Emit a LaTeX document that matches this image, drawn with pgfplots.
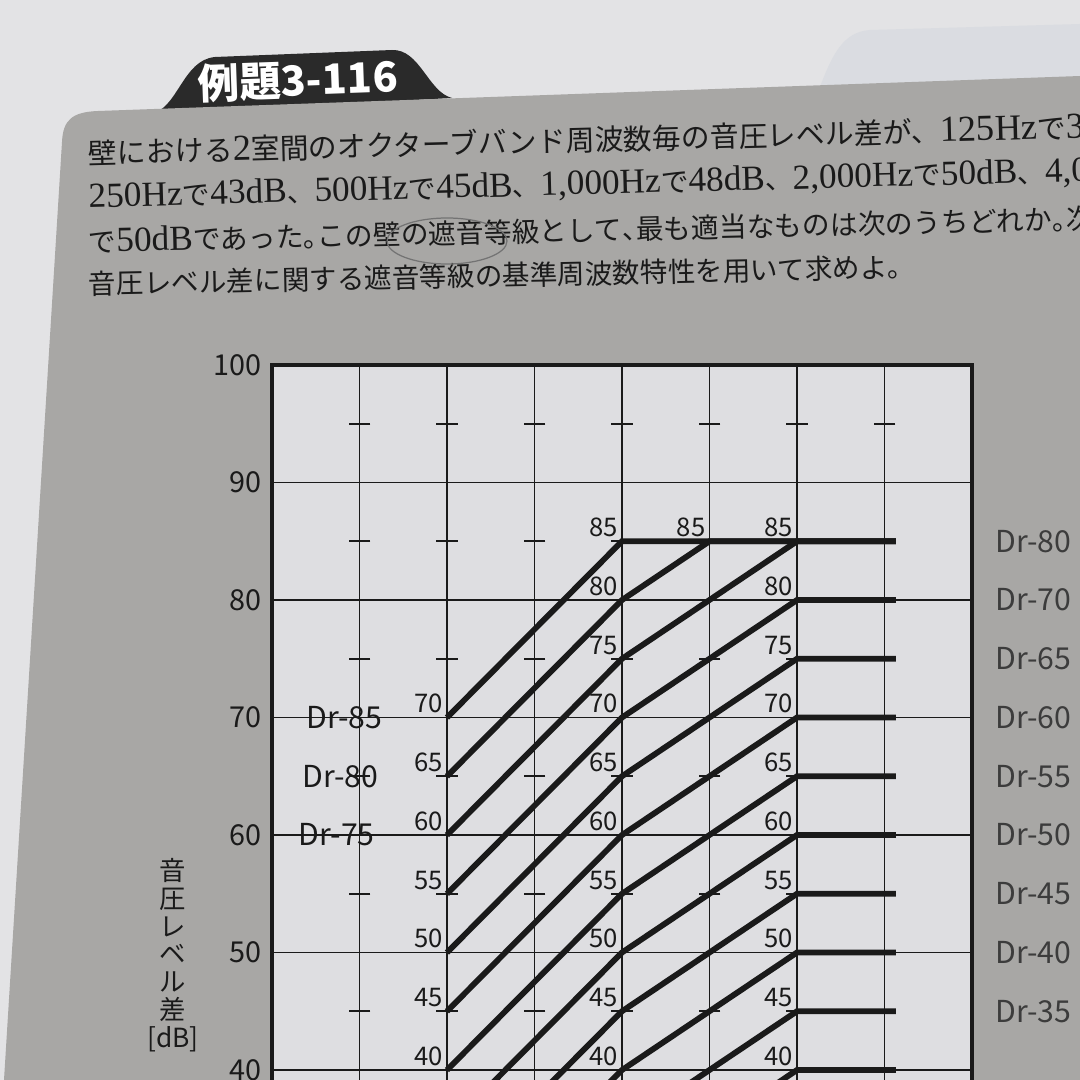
\documentclass[border=0pt]{standalone}
\usepackage{pgfplots}
\pgfplotsset{compat=1.18}
\usepackage{fontspec}
\setmainfont{Noto Sans CJK JP}
\newfontfamily\lserif{Liberation Serif}[Scale=1.27]
\newcommand\hw[1]{\makebox[0.5em][l]{#1}}
\definecolor{pagebg}{HTML}{E3E3E5}
\definecolor{ghost}{HTML}{DADCE1}
\definecolor{panel}{HTML}{A8A7A5}
\definecolor{chartbg}{HTML}{DEDEE1}
\definecolor{ink}{HTML}{1A1A1A}
\definecolor{tabc}{HTML}{2A2A2A}
\tikzset{
  dr/.style={draw=ink, line width=1.65pt},
  rl/.style={anchor=west, text=ink!85, font=\fontsize{8.6}{8.6}\selectfont},
  ll/.style={text=ink, font=\fontsize{8.6}{8.6}\selectfont},
}
\begin{document}
\begin{tikzpicture}
\useasboundingbox (0,0) rectangle (108mm,-108mm);
\clip (0,0) rectangle (108mm,-108mm);
\begin{scope}[x=0.1mm,y=-0.1mm]
  \fill[pagebg] (0,0) rectangle (1080,1080);
  \fill[ghost] (815,100) .. controls (830,60) and (840,32) .. (870,30) -- (1080,24) -- (1080,100) -- cycle;
  \fill[tabc] (150,114) .. controls (178,110) and (182,60) .. (215,57) -- (392,50) .. controls (420,49) and (428,92) .. (452,98) -- cycle;
  \fill[panel] (4,1080) -- (62,142) .. controls (63,120) and (72,112) .. (98,111) -- (1080,76) -- (1080,1080) -- cycle;
  \node[white, font=\fontsize{11.8}{11.8}\selectfont\bfseries, rotate=2] at (298,80) {例題3-116};
  \node[anchor=west, rotate=1.5, inner sep=0, text=ink, font=\fontsize{8.2}{8.2}\selectfont] at (88,153)
    {壁における{\lserif 2}室間のオクターブバンド周波数毎の音圧レベル差が、{\lserif 125Hz}で{\lserif 3}};
  \node[anchor=west, rotate=1.5, inner sep=0, text=ink, font=\fontsize{7.9}{7.9}\selectfont] at (88,198)
    {{\lserif 250Hz}で{\lserif 43dB}、{\lserif 500Hz}で{\lserif 45dB}、{\lserif 1,000Hz}で{\lserif 48dB}、{\lserif 2,000Hz}で{\lserif 50dB}、{\lserif 4,0}};
  \node[anchor=west, rotate=1.3, inner sep=0, text=ink, font=\fontsize{7.9}{7.9}\selectfont] at (88,241)
    {で{\lserif 50dB}であった\hw{。}この壁の遮音等級として\hw{、}最も適当なものは次のうちどれか\hw{。}次};
  \node[anchor=west, rotate=1.2, inner sep=0, text=ink, font=\fontsize{7.85}{7.85}\selectfont] at (88,284)
    {音圧レベル差に関する遮音等級の基準周波数特性を用いて求めよ。};
  \draw[black!55, line width=0.35pt] (447,241) ellipse (60 and 23);
  \node[anchor=north, align=center, text=ink, font=\fontsize{7.5}{7.9}\selectfont] at (173,846)
    {音\\圧\\レ\\ベ\\ル\\差\\{[dB]}};
\end{scope}

\begin{axis}[
  at={(27.2mm,-108mm)}, anchor=south west,
  scale only axis, width=70mm, height=71.5mm,
  xmin=0, xmax=8, ymin=39.15, ymax=100,
  clip=false,
  axis line style={draw=none},
  axis background/.style={fill=chartbg},
  xtick={1,2,3,4,5,6,7}, xticklabels={},
  ytick={40,50,60,70,80,90,100},
  major tick length=0pt,
  grid=major, grid style={draw=ink, line width=0.45pt},
  yticklabel style={font=\fontsize{8.2}{8.2}\selectfont, text=ink, inner sep=1.0mm},
  /pgf/number format/assume math mode=true,
]
% frame
\draw[ink, line width=0.9pt] (axis cs:0,39.15) -- (axis cs:0,100) -- (axis cs:8,100) -- (axis cs:8,39.15);
% half-grid tick marks
\addplot[only marks, mark=-, mark size=3.1pt, mark options={draw=ink, line width=0.45pt}] coordinates {
 (1,45)(1,55)(1,65)(1,75)(1,85)(1,95)
 (2,45)(2,55)(2,65)(2,75)(2,85)(2,95)
 (3,45)(3,55)(3,65)(3,75)(3,85)(3,95)
 (4,45)(4,55)(4,65)(4,75)(4,85)(4,95)
 (5,45)(5,55)(5,65)(5,75)(5,85)(5,95)
 (6,45)(6,55)(6,65)(6,75)(6,85)(6,95)
 (7,45)(7,55)(7,65)(7,75)(7,85)(7,95)};
% Dr curves
\addplot[dr, mark=none] coordinates {(2,70)(4,85)(7.13,85)};
\addplot[dr, mark=none] coordinates {(2,65)(4,80)(5,85)(7.13,85)};
\addplot[dr, mark=none] coordinates {(2,60)(4,75)(6,85)(7.13,85)};
\addplot[dr, mark=none] coordinates {(2,55)(4,70)(6,80)(7.13,80)};
\addplot[dr, mark=none] coordinates {(2,50)(4,65)(6,75)(7.13,75)};
\addplot[dr, mark=none] coordinates {(2,45)(4,60)(6,70)(7.13,70)};
\addplot[dr, mark=none] coordinates {(2,40)(4,55)(6,65)(7.13,65)};
\addplot[dr, mark=none] coordinates {(2,35)(4,50)(6,60)(7.13,60)};
\addplot[dr, mark=none] coordinates {(2,30)(4,45)(6,55)(7.13,55)};
\addplot[dr, mark=none] coordinates {(2,25)(4,40)(6,50)(7.13,50)};
\addplot[dr, mark=none] coordinates {(2,20)(4,35)(6,45)(7.13,45)};
\addplot[dr, mark=none] coordinates {(2,15)(4,30)(6,40)(7.13,40)};
% point values
\addplot[draw=none, mark=none, point meta=y, nodes near coords,
  every node near coord/.append style={anchor=south east, font=\fontsize{7.3}{7.3}\selectfont, text=ink, inner sep=0.35mm}]
  coordinates {
  (2,70)(2,65)(2,60)(2,55)(2,50)(2,45)(2,40)
  (4,85)(4,80)(4,75)(4,70)(4,65)(4,60)(4,55)(4,50)(4,45)(4,40)
  (5,85)
  (6,85)(6,80)(6,75)(6,70)(6,65)(6,60)(6,55)(6,50)(6,45)(6,40)};
% left curve names
\node[ll] at (axis cs:0.83,70) {Dr-85};
\node[ll] at (axis cs:0.78,65) {Dr-80};
\node[ll] at (axis cs:0.74,60) {Dr-75};
% right curve names
\node[rl] at (axis cs:8.13,85) {Dr-80};
\node[rl] at (axis cs:8.13,80) {Dr-70};
\node[rl] at (axis cs:8.13,75) {Dr-65};
\node[rl] at (axis cs:8.13,70) {Dr-60};
\node[rl] at (axis cs:8.13,65) {Dr-55};
\node[rl] at (axis cs:8.13,60) {Dr-50};
\node[rl] at (axis cs:8.13,55) {Dr-45};
\node[rl] at (axis cs:8.13,50) {Dr-40};
\node[rl] at (axis cs:8.13,45) {Dr-35};
\end{axis}
\end{tikzpicture}
\end{document}
